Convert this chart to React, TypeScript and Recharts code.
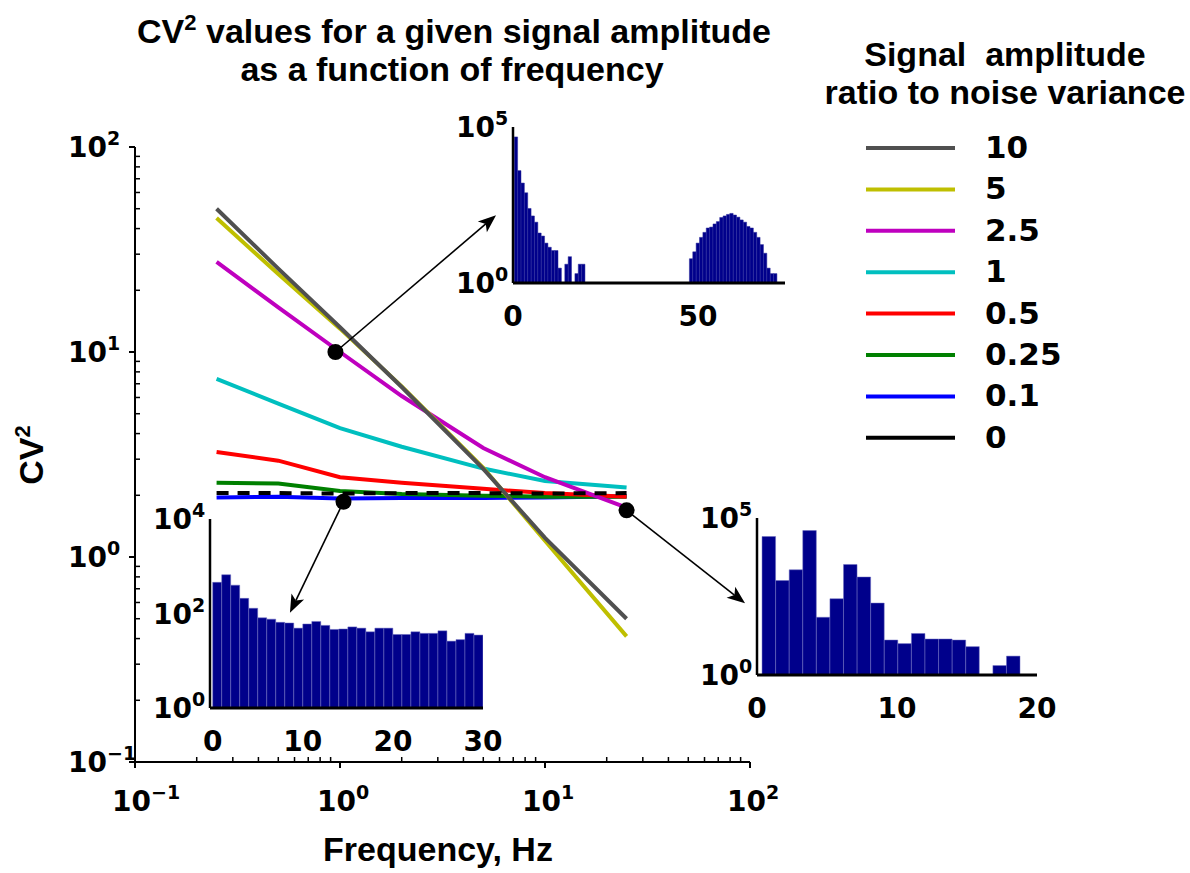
import React from "react";
import {
  Bar,
  BarChart,
  Legend,
  Line,
  LineChart,
  ReferenceDot,
  ReferenceLine,
  XAxis,
  YAxis,
} from "recharts";

const NUM_FONT = "'DejaVu Sans', sans-serif";
const WORD_FONT = "'Liberation Sans', Arial, sans-serif";

// CV² per stimulation frequency, one array per signal/noise ratio
const frequencies = [0.25, 0.5, 1, 2, 5, 10, 25];
const cvRatio10 = [50, 25.5, 13.2, 6.75, 2.69, 1.24, 0.5];
const cvRatio5 = [45, 24, 13, 6.8, 2.72, 1.2, 0.41];
const cvRatio2_5 = [27.5, 16.5, 10, 6.1, 3.4, 2.45, 1.74];
const cvRatio1 = [7.4, 5.6, 4.25, 3.45, 2.7, 2.35, 2.18];
const cvRatio0_5 = [3.25, 2.95, 2.45, 2.3, 2.15, 2.05, 1.97];
const cvRatio0_25 = [2.3, 2.28, 2.1, 2.03, 1.99, 1.97, 1.97];
const cvRatio0_1 = [1.95, 1.97, 1.93, 1.94, 1.94, 1.95, 1.98];
const cvRatio0 = [2.05, 2.05, 2.04, 2.05, 2.05, 2.04, 2.05];

const decadeTicks = [0.1, 1, 10, 100];
const minorTicks = [0.1, 1, 10].flatMap((d) => [2, 3, 4, 5, 6, 7, 8, 9].map((m) => m * d));
const logTicks = [...decadeTicks, ...minorTicks].sort((a, b) => a - b);

const SERIES = [
  { key: "r10", label: "10", color: "#505050", values: cvRatio10 },
  { key: "r5", label: "5", color: "#bfbf00", values: cvRatio5 },
  { key: "r2_5", label: "2.5", color: "#bf00bf", values: cvRatio2_5 },
  { key: "r1", label: "1", color: "#00bfbf", values: cvRatio1 },
  { key: "r0_5", label: "0.5", color: "#ff0000", values: cvRatio0_5 },
  { key: "r0_25", label: "0.25", color: "#008000", values: cvRatio0_25 },
  { key: "r0_1", label: "0.1", color: "#0000ff", values: cvRatio0_1 },
  { key: "r0", label: "0", color: "#000000", values: cvRatio0, dashed: true },
];
// paint order: weak signals underneath, noise-only dashed curve last
const DRAW_ORDER = ["r0_1", "r0_25", "r0_5", "r1", "r2_5", "r5", "r10", "r0"];

const rows = frequencies.map((f, i) => {
  const row: Record<string, number> = { f };
  SERIES.forEach((s) => {
    row[s.key] = s.values[i];
  });
  return row;
});

// points picked out on the curves, and where each arrow points to
const callouts = [
  { at: { x: 0.95, y: 10 }, to: { x: 5.77, y: 46.5 } },
  { at: { x: 1.04, y: 1.86 }, to: { x: 0.57, y: 0.535 } },
  { at: { x: 25, y: 1.69 }, to: { x: 94.6, y: 0.594 } },
];

// interval histograms (counts per bin) for the three insets
const topBinStart = 0.35;
const topBinWidth = 0.91;
const topLowCounts = [48000, 4000, 1600, 780, 245, 141, 89, 40, 32, 19, 14, 11, 11, 3, 0, 4, 7, 0, 2, 4, 4];
const topHighFirstBin = 52;
const topHighCounts = [6, 10, 19, 29, 42, 58, 62, 78, 93, 126, 141, 158, 170, 151, 129, 105, 89, 65, 58, 42, 29, 17, 9, 3, 2, 2];

const leftBinStart = 0;
const leftBinWidth = 1;
const leftCounts = [
  457, 661, 398, 209, 129, 81, 76, 65, 63, 49, 60, 68, 56, 46, 47, 52, 49, 41, 49, 49, 36, 36, 41, 38, 38, 43, 26, 28, 38, 35,
];

const rightBinStart = 0.36;
const rightBinWidth = 0.97;
const rightCounts = [25700, 1020, 2240, 39800, 69, 269, 3310, 1320, 195, 13, 10, 21, 14, 14, 13, 8, 0, 2, 4];

type HistBin = { x: number; n: number };

function toBins(counts: number[], firstBin: number, start: number, width: number): HistBin[] {
  return counts
    .map((n, i) => ({ x: start + width * (firstBin + i + 0.5), n }))
    .filter((b) => b.n > 0);
}

const topBins = [
  ...toBins(topLowCounts, 0, topBinStart, topBinWidth),
  ...toBins(topHighCounts, topHighFirstBin, topBinStart, topBinWidth),
];
const leftBins = toBins(leftCounts, 0, leftBinStart, leftBinWidth);
const rightBins = toBins(rightCounts, 0, rightBinStart, rightBinWidth);

function isDecade(v: number) {
  const e = Math.log10(v);
  return Math.abs(e - Math.round(e)) < 1e-6;
}

function expText(v: number) {
  const e = Math.round(Math.log10(v));
  return e < 0 ? `\u2212${-e}` : String(e);
}

function PowerLabel({ x, y, value }: { x: number; y: number; value: number }) {
  return (
    <text x={x} y={y} fontFamily={NUM_FONT} fontWeight={700} fontSize={28} fill="#000">
      10
      <tspan dy={-12} fontSize={19}>
        {expText(value)}
      </tspan>
    </text>
  );
}

// left log axis: decades get an outward tick and a label, minors an inward tick
function LogTickY(props: any) {
  const { x, y, payload } = props;
  if (!isDecade(payload.value)) {
    return <line x1={x} x2={x + 5} y1={y} y2={y} stroke="#000" strokeWidth={1.5} />;
  }
  return (
    <g>
      <line x1={x - 6} x2={x} y1={y} y2={y} stroke="#000" strokeWidth={2} />
      <PowerLabel x={x - 67} y={y + 10} value={payload.value} />
    </g>
  );
}

function LogTickX(props: any) {
  const { x, y, payload } = props;
  if (!isDecade(payload.value)) {
    return <line x1={x} x2={x} y1={y} y2={y - 5} stroke="#000" strokeWidth={1.5} />;
  }
  return (
    <g>
      <line x1={x} x2={x} y1={y} y2={y + 6} stroke="#000" strokeWidth={2} />
      <PowerLabel x={x - 23} y={y + 49} value={payload.value} />
    </g>
  );
}

function InsetPowerTick(props: any) {
  const { x, y, payload } = props;
  return <PowerLabel x={x - 57} y={y + 10} value={payload.value} />;
}

function CountTick(props: any) {
  const { x, y, payload } = props;
  return (
    <text x={x} y={y + 43} textAnchor="middle" fontFamily={NUM_FONT} fontWeight={700} fontSize={28} fill="#000">
      {payload.value}
    </text>
  );
}

function ArrowShape(props: any) {
  const { x1, y1, x2, y2 } = props;
  if ([x1, y1, x2, y2].some((v) => typeof v !== "number")) return <g />;
  const ang = Math.atan2(y2 - y1, x2 - x1);
  const len = 18;
  const half = 7;
  const cos = Math.cos(ang);
  const sin = Math.sin(ang);
  const bx = x2 - len * cos;
  const by = y2 - len * sin;
  const nx = x2 - len * 0.75 * cos;
  const ny = y2 - len * 0.75 * sin;
  return (
    <g>
      <line x1={x1} y1={y1} x2={nx} y2={ny} stroke="#000" strokeWidth={1.6} />
      <polygon
        points={`${x2},${y2} ${bx - sin * half},${by + cos * half} ${nx},${ny} ${bx + sin * half},${by - cos * half}`}
        fill="#000"
      />
    </g>
  );
}

function AmplitudeLegend() {
  const rowGap = 41.4;
  return (
    <svg width={370} height={440} style={{ overflow: "visible" }}>
      <text x={185} y={46} textAnchor="middle" fontFamily={WORD_FONT} fontWeight={700} fontSize={34} style={{ whiteSpace: "pre" }}>
        {"Signal  amplitude"}
      </text>
      <text x={185} y={84} textAnchor="middle" fontFamily={WORD_FONT} fontWeight={700} fontSize={34}>
        ratio to noise variance
      </text>
      {SERIES.map((s, i) => {
        const cy = 128 + i * rowGap;
        return (
          <g key={s.key}>
            <line x1={46} x2={135} y1={cy} y2={cy} stroke={s.color} strokeWidth={4} />
            <text x={165} y={cy + 10} fontFamily={NUM_FONT} fontWeight={700} fontSize={31} fill="#000">
              {s.label}
            </text>
          </g>
        );
      })}
    </svg>
  );
}

type HistogramProps = {
  left: number;
  top: number;
  plotWidth: number;
  plotHeight: number;
  bins: HistBin[];
  binWidth: number;
  xDomain: [number, number];
  xTicks: number[];
  yDomain: [number, number];
  yTicks: number[];
  edge?: string;
};

function Histogram({
  left,
  top,
  plotWidth,
  plotHeight,
  bins,
  binWidth,
  xDomain,
  xTicks,
  yDomain,
  yTicks,
  edge = "#6c6cc0",
}: HistogramProps) {
  const yAxisWidth = 70;
  const xAxisHeight = 50;
  const pad = 20;
  const pxPerUnit = plotWidth / (xDomain[1] - xDomain[0]);
  return (
    <div style={{ position: "absolute", left: left - yAxisWidth, top: top - pad }}>
      <BarChart
        width={yAxisWidth + plotWidth + pad}
        height={pad + plotHeight + xAxisHeight}
        data={bins}
        margin={{ top: pad, right: pad, bottom: 0, left: 0 }}
      >
        <XAxis
          type="number"
          dataKey="x"
          domain={xDomain}
          allowDataOverflow
          ticks={xTicks}
          interval={0}
          tick={<CountTick />}
          tickLine={false}
          tickSize={0}
          tickMargin={0}
          axisLine={{ stroke: "#000", strokeWidth: 3 }}
          height={xAxisHeight}
        />
        <YAxis
          type="number"
          scale="log"
          domain={yDomain}
          allowDataOverflow
          ticks={yTicks}
          interval={0}
          tick={<InsetPowerTick />}
          tickLine={false}
          tickSize={0}
          tickMargin={0}
          axisLine={{ stroke: "#000", strokeWidth: 2.5 }}
          width={yAxisWidth}
        />
        <Bar
          dataKey="n"
          fill="#00008b"
          stroke={edge}
          strokeWidth={0.5}
          barSize={binWidth * pxPerUnit - 0.05}
          isAnimationActive={false}
        />
      </BarChart>
    </div>
  );
}

export default function App() {
  return (
    <div style={{ position: "absolute", left: 0, top: 0, width: 1190, height: 873, background: "#fff" }}>
      <LineChart width={1190} height={873} data={rows} margin={{ top: 147, right: 440, bottom: 51, left: 75 }}>
        <XAxis
          type="number"
          dataKey="f"
          scale="log"
          domain={[0.1, 100]}
          allowDataOverflow
          ticks={logTicks}
          interval={0}
          tick={<LogTickX />}
          tickSize={0}
          tickMargin={0}
          tickLine={false}
          axisLine={{ stroke: "#000", strokeWidth: 2 }}
          height={60}
        />
        <YAxis
          type="number"
          scale="log"
          domain={[0.1, 100]}
          allowDataOverflow
          ticks={logTicks}
          interval={0}
          tick={<LogTickY />}
          tickSize={0}
          tickMargin={0}
          tickLine={false}
          axisLine={{ stroke: "#000", strokeWidth: 2 }}
          width={60}
        />
        {DRAW_ORDER.map((key) => {
          const s = SERIES.find((d) => d.key === key)!;
          return (
            <Line
              key={s.key}
              dataKey={s.key}
              name={s.label}
              type="linear"
              stroke={s.color}
              strokeWidth={4}
              strokeDasharray={s.dashed ? "12 9" : undefined}
              dot={false}
              activeDot={false}
              isAnimationActive={false}
            />
          );
        })}
        {callouts.map((c, i) => (
          <ReferenceLine key={`arrow-${i}`} segment={[c.at, c.to]} ifOverflow="visible" shape={<ArrowShape />} />
        ))}
        {callouts.map((c, i) => (
          <ReferenceDot key={`dot-${i}`} x={c.at.x} y={c.at.y} r={8} fill="#000" stroke="none" ifOverflow="visible" />
        ))}
        <Legend
          layout="vertical"
          align="center"
          verticalAlign="middle"
          content={() => <AmplitudeLegend />}
          wrapperStyle={{ position: "absolute", left: 820, top: 20, width: 370, height: 440 }}
        />
      </LineChart>

      <Histogram
        left={513}
        top={127}
        plotWidth={272}
        plotHeight={156}
        bins={topBins}
        binWidth={topBinWidth}
        xDomain={[0, 73.5]}
        xTicks={[0, 50]}
        yDomain={[1, 1e5]}
        yTicks={[1, 1e5]}
        edge="#2a2a9c"
      />
      <Histogram
        left={210}
        top={519}
        plotWidth={273}
        plotHeight={189}
        bins={leftBins}
        binWidth={leftBinWidth}
        xDomain={[-0.3, 30]}
        xTicks={[0, 10, 20, 30]}
        yDomain={[1, 1e4]}
        yTicks={[1, 100, 1e4]}
      />
      <Histogram
        left={757}
        top={518}
        plotWidth={280}
        plotHeight={157}
        bins={rightBins}
        binWidth={rightBinWidth}
        xDomain={[0, 20]}
        xTicks={[0, 10, 20]}
        yDomain={[1, 1e5]}
        yTicks={[1, 1e5]}
      />

      <svg width={1190} height={873} style={{ position: "absolute", left: 0, top: 0, pointerEvents: "none" }}>
        <g fontFamily={WORD_FONT} fontWeight={700} fill="#000">
          <text x={454} y={43} textAnchor="middle" fontSize={34}>
            CV
            <tspan dy={-13} fontSize={22}>
              2
            </tspan>
            <tspan dy={13}>{" values for a given signal amplitude"}</tspan>
          </text>
          <text x={452} y={81} textAnchor="middle" fontSize={34}>
            as a function of frequency
          </text>
          <text x={438} y={861} textAnchor="middle" fontSize={34}>
            Frequency, Hz
          </text>
          <text x={43} y={455} textAnchor="middle" fontSize={34} transform="rotate(-90 43 455)">
            CV
            <tspan dy={-13} fontSize={22}>
              2
            </tspan>
          </text>
        </g>
      </svg>
    </div>
  );
}
